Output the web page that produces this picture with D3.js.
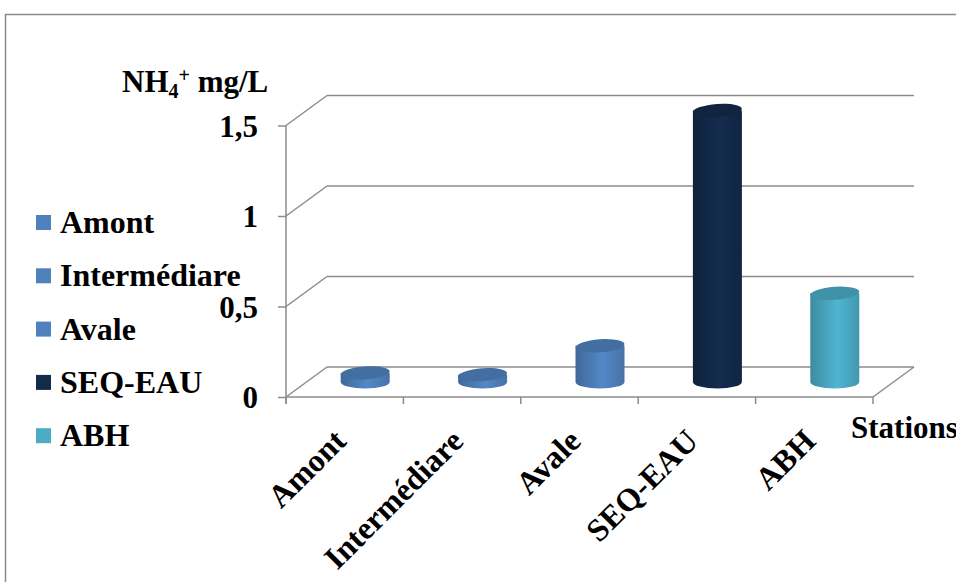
<!DOCTYPE html>
<html>
<head>
<meta charset="utf-8">
<script src="https://cdn.jsdelivr.net/npm/d3@7"></script>
<style>
  html, body { margin: 0; padding: 0; background: #fff; }
</style>
</head>
<body>
<svg id="chart" width="956" height="582"></svg>
<script>
// NH4+ concentration per sampling station
const categories = ["Amont", "Intermédiare", "Avale", "SEQ-EAU", "ABH"];
const values = [0.05, 0.04, 0.2, 1.5, 0.49];
const colors = ["#4F81BD", "#4F81BD", "#4F81BD", "#132a4a", "#4BACC6"];
const tickValues = [0, 0.5, 1, 1.5];
const tickLabels = ["0", "0,5", "1", "1,5"];

(function draw() {
const FONT = "'Liberation Serif', 'Times New Roman', serif";
const svg = d3.select("#chart");
const defs = svg.append("defs");

function label(sel, size) {
  return sel.style("font-family", FONT).style("font-weight", "bold")
    .style("font-size", size + "px").style("fill", "#000");
}

// frame around the whole chart
svg.append("rect")
  .attr("x", 5.5).attr("y", 14.5).attr("width", 970).attr("height", 600)
  .attr("fill", "none").attr("stroke", "#8a8a8a").attr("stroke-width", 1.5);

// plot geometry: front plane plus a depth offset for the 3D box
const plotLeft = 286, plotRight = 873, plotBottom = 397, plotTop = 125.5;
const depthX = 41, depthY = -30;

const x = d3.scaleBand().domain(categories).range([plotLeft, plotRight]);
const y = d3.scaleLinear().domain([0, 1.5]).range([plotBottom, plotTop]);

const grid = svg.append("g").attr("stroke", "#8c8c8c").attr("stroke-width", 1.5).attr("fill", "none");

// back wall gridlines and side-wall diagonals
tickValues.forEach(v => {
  const yy = y(v);
  grid.append("line")
    .attr("x1", plotLeft + depthX).attr("y1", yy + depthY)
    .attr("x2", plotRight + depthX).attr("y2", yy + depthY);
  grid.append("line")
    .attr("x1", plotLeft).attr("y1", yy)
    .attr("x2", plotLeft + depthX).attr("y2", yy + depthY);
});
// floor edges
grid.append("line").attr("x1", plotLeft).attr("y1", plotBottom).attr("x2", plotRight).attr("y2", plotBottom);
grid.append("line").attr("x1", plotRight).attr("y1", plotBottom).attr("x2", plotRight + depthX).attr("y2", plotBottom + depthY);

// value axis
const yAxis = d3.axisLeft(y)
  .tickValues(tickValues)
  .tickFormat((d, i) => tickLabels[i])
  .tickSize(8).tickPadding(20);
const yg = svg.append("g").attr("transform", `translate(${plotLeft},0)`).call(yAxis);
yg.select(".domain").remove();
yg.selectAll(".tick line").attr("stroke", "#8c8c8c").attr("stroke-width", 1.5);
label(yg.selectAll(".tick text"), 31).attr("dy", "0.34em");
svg.append("line").attr("x1", plotLeft).attr("y1", plotTop).attr("x2", plotLeft).attr("y2", plotBottom + 7)
  .attr("stroke", "#8c8c8c").attr("stroke-width", 1.5);

// category axis ticks
const xTicks = x.domain().map(d => x(d)).concat([plotRight]);
svg.append("g").selectAll("line").data(xTicks).join("line")
  .attr("x1", d => d).attr("x2", d => d)
  .attr("y1", plotBottom).attr("y2", plotBottom + 7)
  .attr("stroke", "#8c8c8c").attr("stroke-width", 1.5);

// cylinders
const rx = 24.5, ry = 6.5;
function shade(c, k) { return d3.color(c).darker(k).formatHex(); }
function lighten(c, k) { return d3.color(c).brighter(k).formatHex(); }

categories.forEach((cat, i) => {
  const g = defs.append("linearGradient").attr("id", "grad" + i)
    .attr("x1", "0%").attr("x2", "100%").attr("y1", "0%").attr("y2", "0%");
  g.append("stop").attr("offset", "0%").attr("stop-color", shade(colors[i], 0.6));
  g.append("stop").attr("offset", "55%").attr("stop-color", lighten(colors[i], 0.15));
  g.append("stop").attr("offset", "100%").attr("stop-color", shade(colors[i], 0.35));
});

const bars = svg.append("g");
categories.forEach((cat, i) => {
  const cx = x(cat) + x.bandwidth() / 2 + depthX / 2;
  const base = plotBottom + depthY / 2;
  const h = y(0) - y(values[i]);
  const topY = base - h;
  const body = `M${cx - rx},${topY} L${cx - rx},${base} A${rx},${ry} 0 0 0 ${cx + rx},${base} L${cx + rx},${topY} Z`;
  bars.append("path").attr("d", body).attr("fill", `url(#grad${i})`);
  bars.append("ellipse")
    .attr("cx", cx).attr("cy", topY).attr("rx", rx).attr("ry", ry)
    .attr("fill", shade(colors[i], 0.45))
    .attr("transform", `rotate(-4 ${cx} ${topY})`);
});

// rotated category labels
label(svg.append("g").selectAll("text").data(categories).join("text"), 32)
  .attr("text-anchor", "end")
  .attr("transform", d => `translate(${x(d) + x.bandwidth() / 2 + 3},${plotBottom + 46}) rotate(-45)`)
  .text(d => d);

// axis titles
const title = label(svg.append("text").attr("x", 122).attr("y", 92), 31);
title.append("tspan").text("NH");
title.append("tspan").style("font-size", "20px").attr("dy", 6).text("4");
title.append("tspan").style("font-size", "20px").attr("dy", -16).text("+");
title.append("tspan").attr("dy", 10).text(" mg/L");

label(svg.append("text").attr("x", 851).attr("y", 438), 31).text("Stations");

// legend
const legend = svg.append("g");
categories.forEach((cat, i) => {
  const cy = 222 + i * 53.3;
  legend.append("rect").attr("x", 36).attr("y", cy - 7).attr("width", 15).attr("height", 15).attr("fill", colors[i]);
  label(legend.append("text").attr("x", 60).attr("y", cy + 11), 32).text(cat);
});
})();
</script>
</body>
</html>
